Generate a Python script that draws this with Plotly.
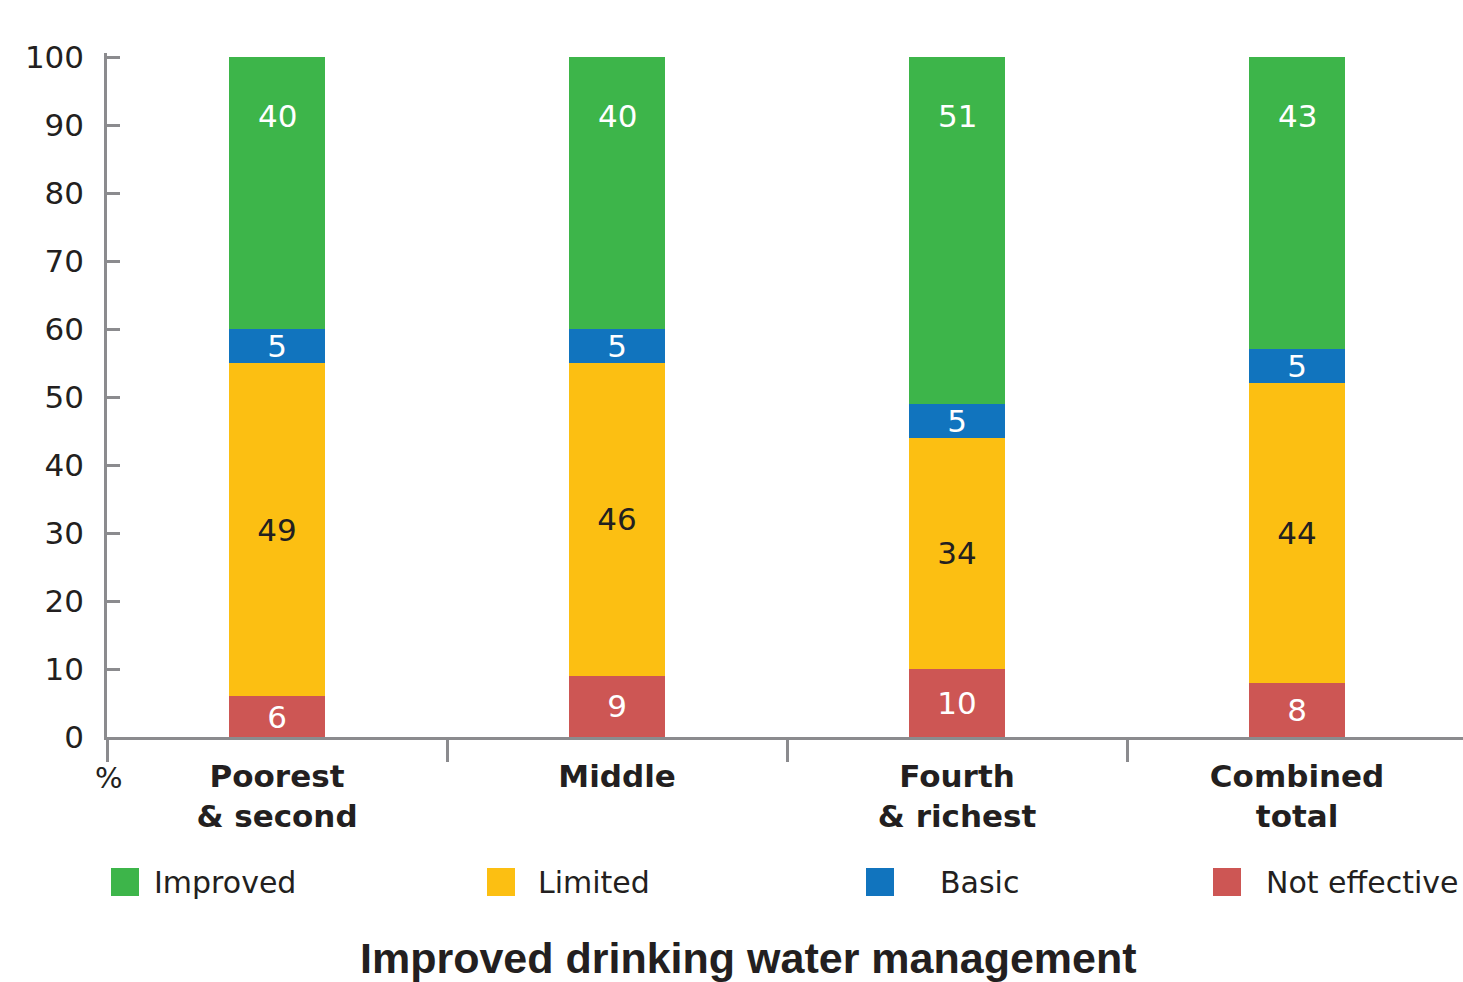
import plotly.graph_objects as go

# Share of households by quintile group and drinking water management level (%)
groups = ["Poorest<br>& second", "Middle", "Fourth<br>& richest", "Combined<br>total"]
not_effective = [6, 9, 10, 8]
limited = [49, 46, 34, 44]
basic = [5, 5, 5, 5]
improved = [40, 40, 51, 43]

series_names = ["Not effective", "Limited", "Basic", "Improved"]
series_values = [not_effective, limited, basic, improved]
series_colors = ["#CD5654", "#FCBF12", "#1174BE", "#3DB54A"]
label_colors = ["white", "#231F20", "white", "white"]

W, H = 1463, 982
ML, MR, MT, MB = 107, 0, 53, 245
PW, PH = W - ML - MR, H - MT - MB
AXIS_GREY = "#8B8B8E"
TEXT = "#231F20"
BODY_FONT = "DejaVu Sans"


def px_x(px):
    return (px - ML) / PW


def px_y(py):
    return (H - MB - py) / PH


fig = go.Figure()

for name, vals, color, lab in zip(series_names, series_values, series_colors, label_colors):
    is_top = name == "Improved"
    fig.add_trace(go.Bar(
        x=groups,
        y=vals,
        name=name,
        marker=dict(color=color, line=dict(width=0)),
        width=0.283,
        text=None if is_top else [str(v) for v in vals],
        textposition="inside",
        insidetextanchor="middle",
        textangle=0,
        constraintext="none",
        insidetextfont=dict(family=BODY_FONT, size=31, color=lab),
        showlegend=False,
        hoverinfo="skip",
    ))

# Top segment labels sit near the top of each column
totals = [a + b + c + d for a, b, c, d in zip(not_effective, limited, basic, improved)]
annotations = []
for g, v, t in zip(groups, improved, totals):
    annotations.append(dict(
        x=g, y=t - 8.7, xref="x", yref="y", text=str(v), showarrow=False,
        font=dict(family=BODY_FONT, size=31, color="white"),
    ))

# Unit label under the value axis
annotations.append(dict(
    x=px_x(109), y=px_y(778), xref="paper", yref="paper", text="%",
    xanchor="center", yanchor="middle",
    showarrow=False, font=dict(family=BODY_FONT, size=29, color=TEXT),
))

# Legend row
legend_items = [
    ("Improved", "#3DB54A", 111, 152),
    ("Limited", "#FCBF12", 487, 536),
    ("Basic", "#1174BE", 866, 938),
    ("Not effective", "#CD5654", 1213, 1264),
]
shapes = []
for label, color, sx, tx in legend_items:
    shapes.append(dict(
        type="rect", xref="paper", yref="paper",
        x0=px_x(sx), x1=px_x(sx + 28), y0=px_y(868), y1=px_y(896),
        fillcolor=color, line=dict(width=0),
    ))
    annotations.append(dict(
        x=px_x(tx), y=px_y(882), xref="paper", yref="paper", text=label,
        xanchor="left", yanchor="middle", showarrow=False,
        font=dict(family=BODY_FONT, size=30, color=TEXT),
    ))

# Chart title below the legend
annotations.append(dict(
    x=px_x(748), y=px_y(958), xref="paper", yref="paper",
    text="<b>Improved drinking water management</b>", showarrow=False,
    xanchor="center", yanchor="middle",
    font=dict(family="Liberation Sans", size=43, color=TEXT),
))

fig.update_layout(
    width=W, height=H,
    margin=dict(l=ML, r=MR, t=MT, b=MB, pad=0),
    barmode="stack",
    paper_bgcolor="white",
    plot_bgcolor="white",
    annotations=annotations,
    shapes=shapes,
    xaxis=dict(
        range=[-0.5, 3.488],
        showline=True, linecolor=AXIS_GREY, linewidth=2.5,
        ticks="outside", tickson="boundaries", ticklen=22, tickwidth=2.5, tickcolor=AXIS_GREY,
        ticklabelstandoff=10,
        tickfont=dict(family=BODY_FONT, size=31, color=TEXT),
        showgrid=False, zeroline=False, fixedrange=True,
    ),
    yaxis=dict(
        range=[0, 100.6],
        tickmode="array", tickvals=list(range(0, 101, 10)),
        showline=True, linecolor=AXIS_GREY, linewidth=2.5,
        ticks="inside", ticklen=13, tickwidth=2.5, tickcolor=AXIS_GREY,
        ticklabelstandoff=14,
        tickfont=dict(family=BODY_FONT, size=31, color=TEXT),
        showgrid=False, zeroline=False, fixedrange=True,
    ),
)

# Bold category labels
fig.update_xaxes(ticktext=[f"<b>{g}</b>" for g in groups], tickvals=groups)

fig.write_html("out.html")
